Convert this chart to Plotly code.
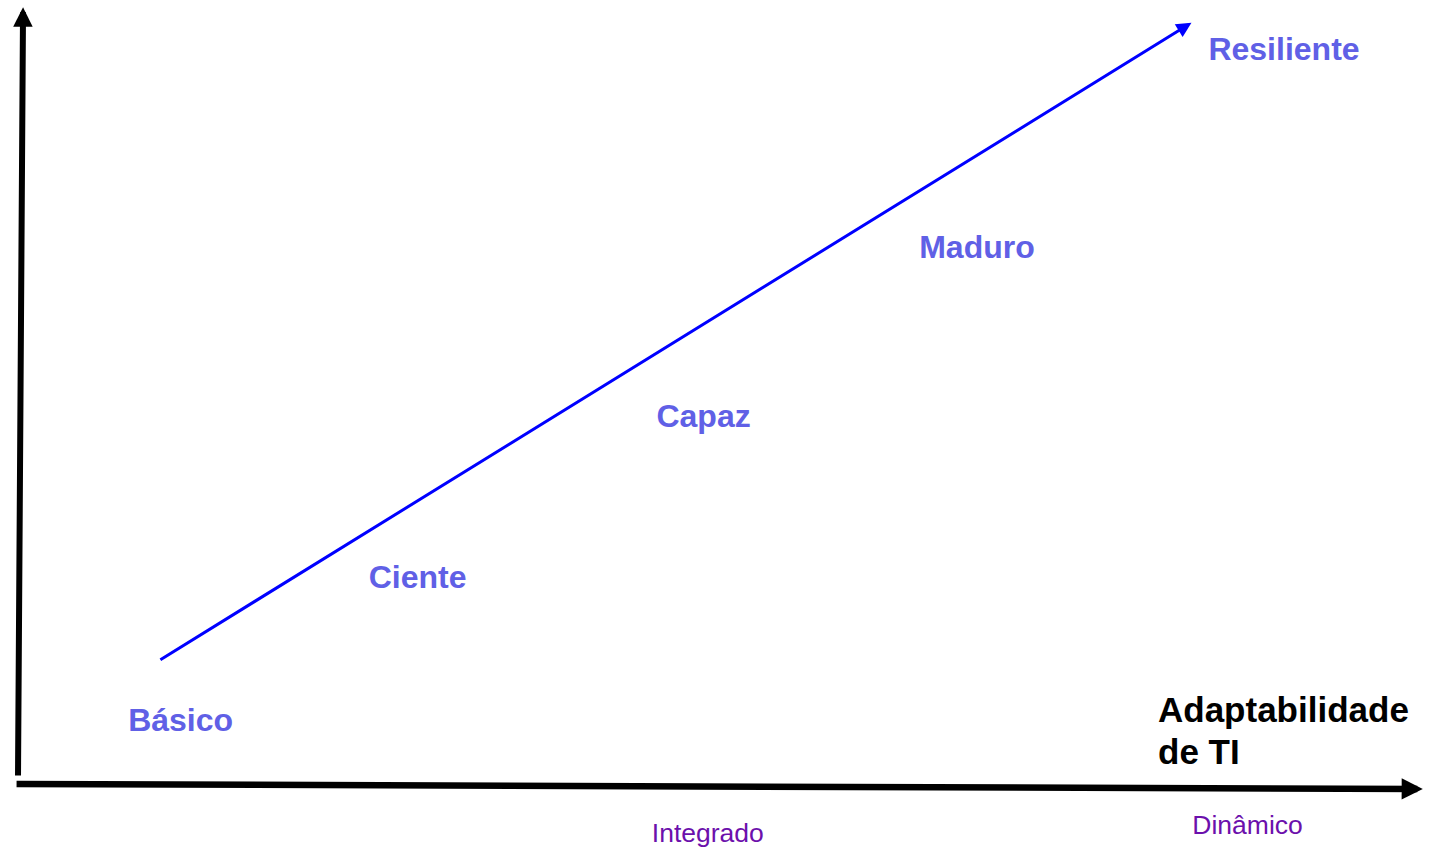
import plotly.graph_objects as go

# Maturity stages (position along the two conceptual dimensions, 0-100 scale)
stages = ["Básico", "Ciente", "Capaz", "Maduro", "Resiliente"]
stage_x = [11.6, 28.5, 48.9, 68.4, 90.3]
stage_y = [7.8, 26.3, 47.1, 68.8, 94.3]

# Trend arrow (start, end)
trend_x = [10.05, 83.7]
trend_y = [15.9, 98.1]

# Levels shown under the horizontal axis
level_labels = ["Integrado", "Dinâmico"]
level_x = [49.2, 87.7]
level_y = [-6.56, -5.56]

axis_title_lines = ["Adaptabilidade", "de TI"]
axis_title_x = 81.2
axis_title_y = [9.66, 4.25]

FONT = "Liberation Sans, Arial, Helvetica, sans-serif"
BLUE_TXT = "#6060E6"
PURPLE = "#6C10AC"

fig = go.Figure()

# stage labels
fig.add_trace(go.Scatter(
    x=stage_x, y=stage_y, mode="text", text=stages,
    textposition="middle center",
    textfont=dict(family=FONT, size=32, color=BLUE_TXT, weight="bold"),
    hoverinfo="skip", showlegend=False,
))

# level labels
fig.add_trace(go.Scatter(
    x=level_x, y=level_y, mode="text", text=level_labels,
    textposition="middle center",
    textfont=dict(family=FONT, size=26.5, color=PURPLE),
    hoverinfo="skip", showlegend=False,
))

annotations = []
# trend arrow
annotations.append(dict(
    x=trend_x[1], y=trend_y[1], ax=trend_x[0], ay=trend_y[0],
    xref="x", yref="y", axref="x", ayref="y", text="",
    showarrow=True, arrowhead=2, arrowsize=1.0, arrowwidth=3,
    arrowcolor="#0000FF", standoff=0,
))
# vertical axis arrow
annotations.append(dict(
    x=0.36, y=100.1, ax=0.0, ay=0.9,
    xref="x", yref="y", axref="x", ayref="y", text="",
    showarrow=True, arrowhead=2, arrowsize=0.65, arrowwidth=6,
    arrowcolor="#000000", standoff=0,
))
# horizontal axis arrow
annotations.append(dict(
    x=100.2, y=-0.64, ax=-0.21, ay=0.0,
    xref="x", yref="y", axref="x", ayref="y", text="",
    showarrow=True, arrowhead=2, arrowsize=0.65, arrowwidth=6.5,
    arrowcolor="#000000", standoff=0,
))
# axis title
for line, ty in zip(axis_title_lines, axis_title_y):
    annotations.append(dict(
        x=axis_title_x, y=ty, xref="x", yref="y", text="<b>" + line + "</b>",
        showarrow=False, xanchor="left", yanchor="middle", align="left",
        font=dict(family=FONT, size=35, color="#000000"),
    ))

fig.update_layout(
    width=1435, height=848,
    margin=dict(l=0, r=0, t=0, b=0),
    paper_bgcolor="white", plot_bgcolor="white",
    xaxis=dict(range=[-1.284, 101.07], visible=False, fixedrange=True),
    yaxis=dict(range=[-8.247, 101.03], visible=False, fixedrange=True),
    annotations=annotations,
    showlegend=False,
)

fig.write_html(
    "out.html",
    config={"displayModeBar": False},
    post_script="document.body.style.margin='0';document.body.style.overflow='hidden';",
)
